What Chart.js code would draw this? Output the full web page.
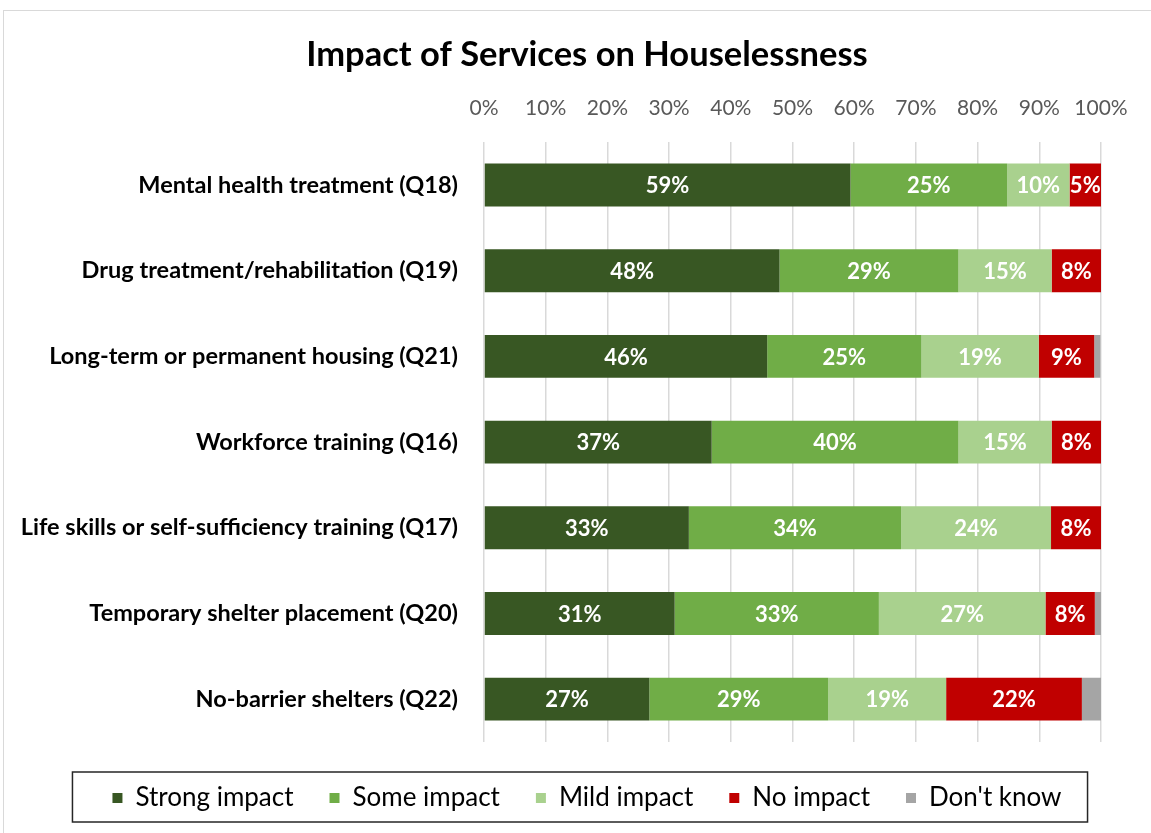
<!DOCTYPE html>
<html>
<head>
<meta charset="utf-8">
<script src="https://cdn.jsdelivr.net/npm/chart.js@4.4.1/dist/chart.umd.min.js"></script>
<style>
  html, body { margin: 0; padding: 0; background: #fff; overflow: hidden; }
  #frame { position: absolute; left: 3px; top: 10px; width: 1170px; height: 860px; border: 1px solid #d9d9d9; }
  canvas { display: block; }
</style>
</head>
<body>
<div id="frame"><canvas id="barChart" width="1147" height="840"></canvas></div>
<script>
// categories (top to bottom)
const services = [
  "Mental health treatment (Q18)",
  "Drug treatment/rehabilitation (Q19)",
  "Long-term or permanent housing (Q21)",
  "Workforce training (Q16)",
  "Life skills or self-sufficiency training (Q17)",
  "Temporary shelter placement (Q20)",
  "No-barrier shelters (Q22)"
];

// share of answers, percent
const strongImpact = [59.4, 47.9, 45.9, 36.9, 33.2, 30.9, 26.8];
const someImpact   = [25.4, 29.0, 25.0, 40.0, 34.4, 33.1, 29.0];
const mildImpact   = [10.1, 15.1, 19.0, 15.1, 24.3, 27.0, 19.1];
const noImpact     = [5.1, 8.0, 9.0, 8.0, 8.1, 8.0, 22.0];
const dontKnow     = [0, 0, 1.0, 0, 0, 1.0, 3.1];

const xTicks = [0, 10, 20, 30, 40, 50, 60, 70, 80, 90, 100];

const FONT = "Lato, 'Open Sans', sans-serif";

// white value labels in the middle of each segment
const segmentLabels = {
  id: "segmentLabels",
  afterDatasetsDraw(chart) {
    const ctx = chart.ctx;
    ctx.save();
    ctx.font = "bold 22px " + FONT;
    ctx.fillStyle = "#ffffff";
    ctx.textAlign = "center";
    ctx.textBaseline = "middle";
    chart.data.datasets.forEach((ds, i) => {
      if (ds.label === "Don't know") return;
      const meta = chart.getDatasetMeta(i);
      meta.data.forEach((bar, j) => {
        const v = ds.data[j];
        if (!v) return;
        ctx.fillText(Math.round(v) + "%", (bar.x + bar.base) / 2, bar.y + 1);
      });
    });
    ctx.restore();
  }
};

// long category names run into the left padding, so don't clip them
const unclipY = {
  id: "unclipY",
  afterLayout(chart) {
    chart.scales.y.left = 0;
  }
};

// box round the legend
const legendFrame = {
  id: "legendFrame",
  afterDraw(chart) {
    const boxes = chart.legend.legendHitBoxes;
    if (!boxes || !boxes.length) return;
    const left = Math.min(...boxes.map(b => b.left)) - 40;
    const right = Math.max(...boxes.map(b => b.left + b.width)) + 26;
    const top = boxes[0].top - 13;
    const bottom = boxes[0].top + boxes[0].height + 11;
    const ctx = chart.ctx;
    ctx.save();
    ctx.strokeStyle = "#262626";
    ctx.lineWidth = 1.5;
    ctx.strokeRect(left, top, right - left, bottom - top);
    ctx.restore();
  }
};

function makeSet(label, data, color) {
  return {
    label: label,
    data: data,
    backgroundColor: color,
    borderWidth: 0,
    barPercentage: 0.5,
    categoryPercentage: 1.0
  };
}

const ctx = document.getElementById("barChart").getContext("2d");
new Chart(ctx, {
  type: "bar",
  data: {
    labels: services,
    datasets: [
      makeSet("Strong impact", strongImpact, "#385723"),
      makeSet("Some impact", someImpact, "#70ad47"),
      makeSet("Mild impact", mildImpact, "#a9d18e"),
      makeSet("No impact", noImpact, "#c00000"),
      makeSet("Don't know", dontKnow, "#a5a5a5")
    ]
  },
  options: {
    indexAxis: "y",
    responsive: false,
    animation: false,
    layout: { padding: { left: 69, right: 50, top: 0, bottom: 30 } },
    scales: {
      x: {
        position: "top",
        stacked: true,
        min: 0,
        max: 100,
        afterBuildTicks: s => { s.ticks = xTicks.map(v => ({ value: v })); },
        afterFit: s => { s.height = 45; },
        border: { display: false },
        grid: { color: "#d9d9d9", lineWidth: 1.5, drawTicks: false },
        ticks: {
          padding: 21,
          color: "#595959",
          font: { family: FONT, size: 21 },
          callback: v => v + "%"
        }
      },
      y: {
        stacked: true,
        afterFit: s => { s.width = 411; },
        border: { display: false },
        grid: { display: false },
        ticks: {
          padding: 18,
          color: "#000000",
          font: { family: FONT, size: 23.5, weight: "bold" }
        }
      }
    },
    plugins: {
      title: {
        display: true,
        text: "Impact of Services on Houselessness",
        color: "#000000",
        font: { family: FONT, size: 34.5, weight: "bold" },
        padding: { top: 23.4, bottom: 21.4 }
      },
      legend: {
        position: "bottom",
        title: { display: true, text: "", font: { size: 1, lineHeight: 1 }, padding: { top: 6, bottom: 0 } },
        labels: {
          boxWidth: 10,
          boxHeight: 10,
          padding: 36,
          color: "#000000",
          font: { family: FONT, size: 26 }
        }
      },
      tooltip: { enabled: false }
    }
  },
  plugins: [segmentLabels, unclipY, legendFrame]
});
</script>
</body>
</html>
